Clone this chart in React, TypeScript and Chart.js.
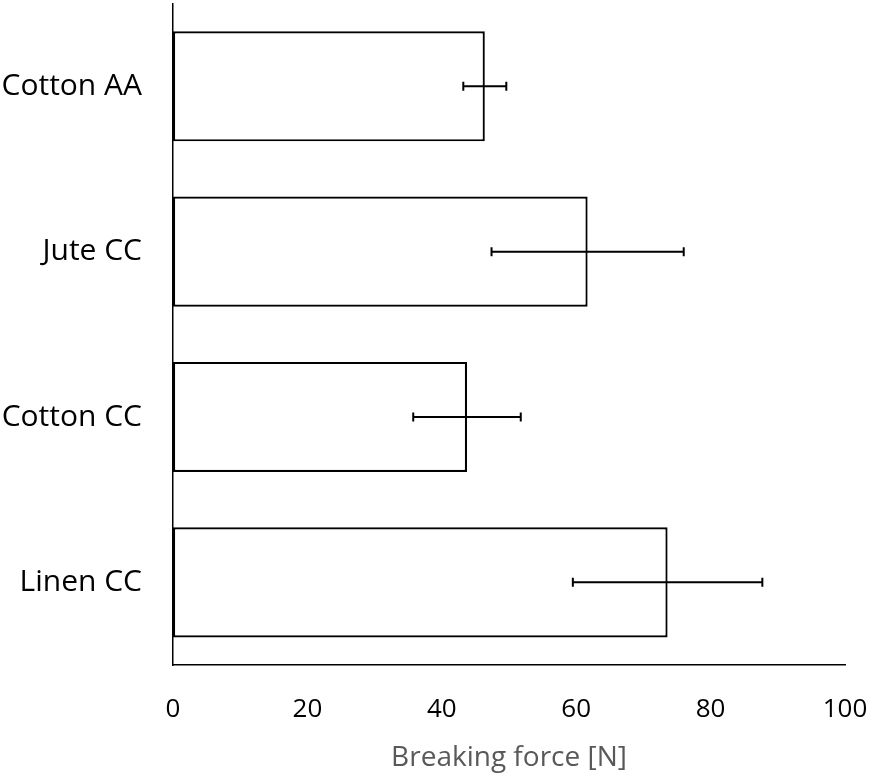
import React, { useEffect, useRef } from "react";
import { Chart, registerables } from "chart.js";

Chart.register(...registerables);

const categories = ["Cotton AA", "Jute CC", "Cotton CC", "Linen CC"];
const values = [46.4, 61.7, 43.75, 73.6];
const errors = [3.2, 14.3, 8.0, 14.1];
const xTicks = [0, 20, 40, 60, 80, 100];
const xTitle = "Breaking force [N]";

const FONT = "'Open Sans', 'DejaVu Sans', sans-serif";

const errorBarPlugin = {
  id: "errorBars",
  afterDatasetsDraw(chart: any) {
    const ctx = chart.ctx;
    const meta = chart.getDatasetMeta(0);
    const xs = chart.scales.x;
    ctx.save();
    ctx.strokeStyle = "#000";
    ctx.lineWidth = 2;
    meta.data.forEach((bar: any, i: number) => {
      const y = bar.y;
      const x1 = xs.getPixelForValue(values[i] - errors[i]);
      const x2 = xs.getPixelForValue(values[i] + errors[i]);
      const cap = 4.5;
      ctx.beginPath();
      ctx.moveTo(x1, y);
      ctx.lineTo(x2, y);
      ctx.moveTo(x1, y - cap);
      ctx.lineTo(x1, y + cap);
      ctx.moveTo(x2, y - cap);
      ctx.lineTo(x2, y + cap);
      ctx.stroke();
    });
    ctx.restore();
  },
};

export default function App() {
  const ref = useRef<HTMLCanvasElement>(null);
  useEffect(() => {
    document.body.style.margin = "0";
    const chart = new Chart(ref.current!, {
      type: "bar",
      data: {
        labels: categories,
        datasets: [
          {
            data: values,
            backgroundColor: "#ffffff",
            borderColor: "#000000",
            borderWidth: 2.2,
            borderSkipped: false,
            categoryPercentage: 1,
            barPercentage: 0.666,
          },
        ],
      },
      options: {
        indexAxis: "y",
        animation: false,
        responsive: false,
        maintainAspectRatio: false,
        layout: { padding: { top: 3.6, right: 29, left: 0, bottom: 0 } },
        plugins: { legend: { display: false }, tooltip: { enabled: false }, title: { display: false } },
        scales: {
          x: {
            min: 0,
            max: 100,
            afterBuildTicks: (s: any) => {
              s.ticks = xTicks.map((v) => ({ value: v }));
            },
            grid: { display: false, drawTicks: false },
            border: { display: true, color: "#000", width: 1.5 },
            ticks: {
              color: "#000",
              font: { family: FONT, size: 26 },
              padding: 29,
              maxRotation: 0,
            },
            title: {
              display: true,
              text: xTitle,
              color: "#595959",
              font: { family: FONT, size: 28 },
              padding: { top: 0, bottom: 0 },
            },
            afterFit: (s: any) => {
              s.height = 110;
              s.paddingLeft = 0;
              s.paddingRight = 0;
              s.paddingTop = 0;
              s.paddingBottom = 0;
            },
          },
          y: {
            grid: { display: false, drawTicks: false },
            border: { display: true, color: "#000", width: 1.5 },
            ticks: {
              color: "#000",
              font: { family: FONT, size: 30 },
              padding: 31,
            },
            afterFit: (s: any) => {
              s.width = 173;
              s.paddingLeft = 0;
              s.paddingRight = 0;
              s.paddingTop = 0;
              s.paddingBottom = 0;
            },
          },
        },
      },
      plugins: [errorBarPlugin],
    });
    return () => chart.destroy();
  }, []);
  return (
    <div style={{ width: 874, height: 775 }}>
      <canvas ref={ref} width={874} height={775} style={{ display: "block" }} />
    </div>
  );
}
